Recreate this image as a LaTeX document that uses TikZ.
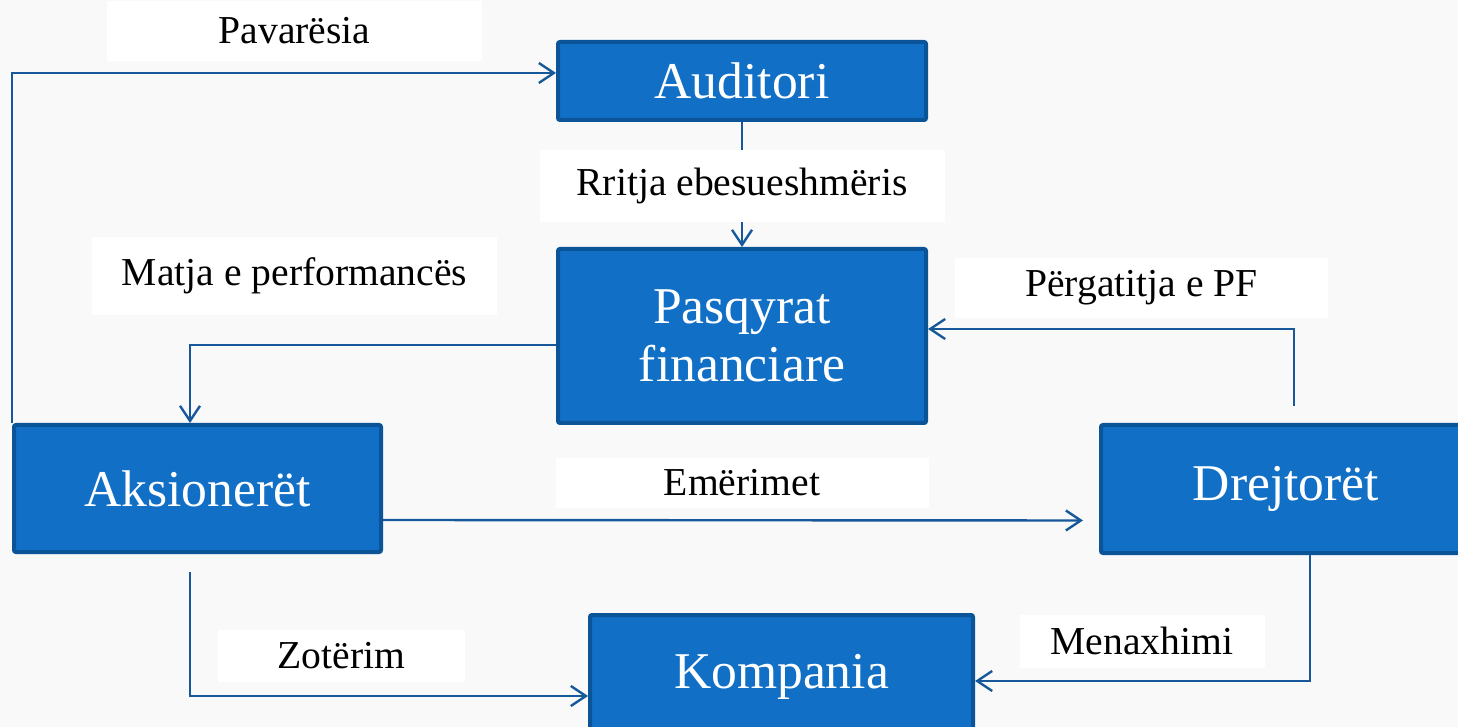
\documentclass[tikz,border=0pt]{standalone}
\usepackage{fontspec}
\setmainfont{Liberation Serif}
\usetikzlibrary{arrows.meta,calc}
\definecolor{boxfill}{RGB}{17,112,198}
\definecolor{boxline}{RGB}{12,84,152}
\definecolor{conncol}{RGB}{22,88,154}
\definecolor{bgcol}{RGB}{249,249,249}
\tikzset{
  box/.style={rectangle, fill=boxfill, draw=boxline, line width=2pt, rounded corners=1pt,
    text=white, font=\fontsize{25.8}{29}\selectfont, align=center, inner sep=0pt},
  lbl/.style={rectangle, fill=white, inner sep=0pt, text=black, font=\fontsize{19.8}{22}\selectfont},
  conn/.style={draw=conncol, line width=1.2pt, -{Straight Barb[length=7.5pt,width=10pt,line width=1.2pt]}},
  plain/.style={draw=conncol, line width=1.2pt}
}
\begin{document}
\begin{tikzpicture}[x=0.5pt,y=-0.5pt]
\useasboundingbox (0,0) rectangle (1458,727);
\clip (0,0) rectangle (1458,727);
\fill[bgcol] (0,0) rectangle (1458,727);
% boxes
\node[box, minimum width=184pt, minimum height=39pt] (aud) at (742,81) {Auditori};
\node[box, minimum width=184pt, minimum height=87pt] (pas) at (742,336) {Pasqyrat\\financiare};
\node[box, minimum width=183.5pt, minimum height=63.5pt] (aks) at (197.5,488.5) {Aksionerët};
\node[box, minimum width=185pt, minimum height=64pt] (drj) at (1286,489) {Drejtorët};
\node[box, minimum width=191.5pt, minimum height=62pt] (kom) at (781.5,677) {Kompania};
% connectors
\draw[conn] (aks.north west) |- ([yshift=4pt]aud.west);
\draw[conn] (aud.south) -- (pas.north);
\draw[conn] ([yshift=-4.5pt]pas.west) -| ([xshift=-3.75pt]aks.north);
\draw[conn] ([xshift=4pt,yshift=8.5pt]drj.north) |- ([yshift=3.5pt]pas.east);
\draw[conn, shorten >=8pt] ([yshift=-15.75pt]aks.east) -- ([yshift=-15.75pt]drj.west);
\draw[conn] ([xshift=-3.75pt,yshift=-9pt]aks.south) |- ([yshift=-9.5pt]kom.west);
\draw[conn] ([xshift=12pt]drj.south) |- ([yshift=-2pt]kom.east);
% labels
\node[lbl, minimum width=187.5pt, minimum height=30pt] (l1) at (294.5,31) {Pavarësia};
\node[lbl, minimum width=202.5pt, minimum height=36pt] (l2) at (742,186) {Rritja ebesueshmëris};
\node[lbl, minimum width=202.5pt, minimum height=39pt] (l3) at (294.5,276) {Matja e performancës};
\node[lbl, minimum width=186.5pt, minimum height=30pt] (l4) at (1141.5,288) {Përgatitja e PF};
\node[lbl, minimum width=186.5pt, minimum height=25pt] (l5) at (742,483) {Emërimet};
\node[lbl, minimum width=123.5pt, minimum height=26pt] (l6) at (341.5,656) {Zotërim};
\node[lbl, minimum width=122.5pt, minimum height=26.5pt] (l7) at (1142,641) {Menaxhimi};
\end{tikzpicture}
\end{document}
